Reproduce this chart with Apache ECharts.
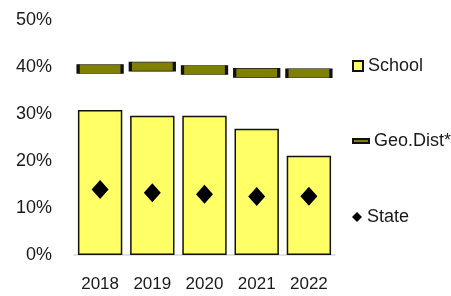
<!DOCTYPE html>
<html>
<head>
<meta charset="utf-8">
<script src="https://cdn.jsdelivr.net/npm/echarts@6/dist/echarts.min.js"></script>
<style>
  html, body { margin: 0; padding: 0; background: #fff; }
  #main { width: 451px; height: 296px; }
</style>
</head>
<body>
<div id="main"></div>
<script>
const years = ['2018', '2019', '2020', '2021', '2022']
const school = [30.8, 29.6, 29.6, 26.8, 21.1]
const geoDist = [39.5, 40.0, 39.3, 38.7, 38.6]
const state = [13.9, 13.2, 12.9, 12.4, 12.5]
const yTicks = [0, 10, 20, 30, 40, 50]

const FONT = "'Liberation Sans', Arial, sans-serif"
const txt = { fontFamily: FONT, fontSize: 18, color: '#1a1a1a' }

const chart = echarts.init(document.getElementById('main'))

// one small legend per series so each can sit at its own height
function legendAt (name, top, icon, w, h) {
  return {
    data: [{ name: name, icon: icon }],
    left: 347,
    top: top,
    itemWidth: w,
    itemHeight: h,
    itemGap: 0,
    textStyle: txt,
    selectedMode: false
  }
}

const option = {
  animation: false,
  grid: { left: 74, right: 116, top: 19.6, bottom: 41 },
  legend: [
    legendAt('School', 52, 'rect', 10, 10),
    legendAt('Geo.Dist*', 127, 'rect', 16, 4),
    legendAt('State', 203, 'diamond', 10, 10)
  ],
  xAxis: {
    type: 'category',
    data: years,
    axisLine: { lineStyle: { color: '#d9d9d9', width: 1.5 } },
    axisTick: { show: false },
    axisLabel: { interval: 0, margin: 21, fontSize: 17, fontFamily: FONT, color: '#1a1a1a' }
  },
  yAxis: {
    type: 'value',
    min: yTicks[0],
    max: yTicks[yTicks.length - 1],
    interval: 10,
    splitLine: { show: false },
    axisLine: { show: false },
    axisTick: { show: false },
    axisLabel: Object.assign({ margin: 22, formatter: '{value}%' }, txt)
  },
  series: [
    {
      name: 'School',
      type: 'bar',
      data: school,
      barCategoryGap: '15%',
      itemStyle: { color: '#ffff66', borderColor: '#111', borderWidth: 1.5 }
    },
    {
      name: 'Geo.Dist*',
      type: 'scatter',
      data: geoDist,
      symbol: 'rect',
      symbolSize: [44, 9],
      itemStyle: { color: '#808000', borderColor: '#111', borderWidth: 1.5, opacity: 1 }
    },
    {
      name: 'State',
      type: 'scatter',
      data: state,
      symbol: 'diamond',
      symbolSize: [17, 19],
      itemStyle: { color: '#000', opacity: 1 }
    }
  ]
}

chart.setOption(option)
</script>
</body>
</html>
